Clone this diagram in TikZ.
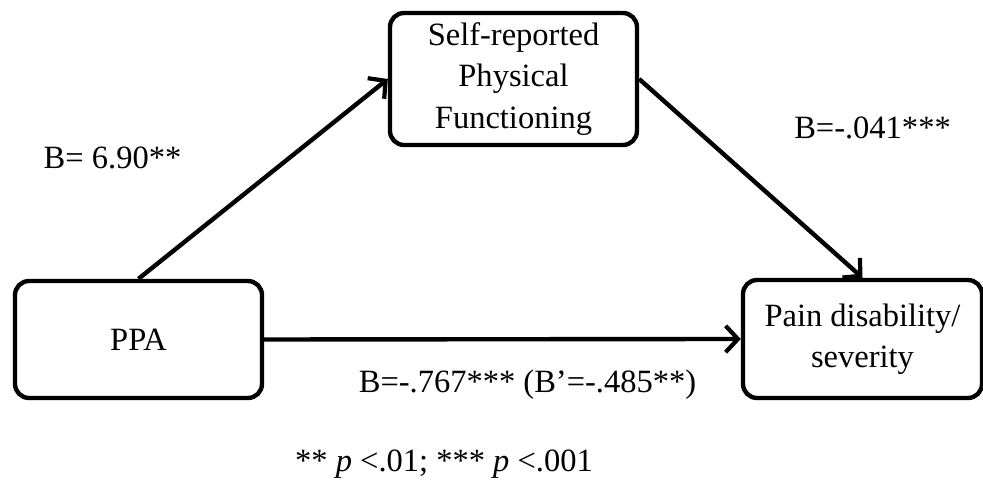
\documentclass[tikz,border=0pt]{standalone}
\usepackage{fontspec}
\setmainfont{Liberation Serif}
\usepackage{tikz}
\usetikzlibrary{arrows.meta}
\usetikzlibrary{positioning}
\tikzset{>={Straight Barb[length=7pt,width=15pt,line width=2.4pt]}}
\tikzstyle{var} = [rectangle, draw=black, line width=2.5pt, rounded corners=8pt, align=center, font=\fontsize{18.5}{23.5}\selectfont]
\tikzstyle{path} = [->, line width=2.5pt]
\tikzstyle{coef} = [draw=none, font=\fontsize{18.5}{22.5}\selectfont]

\begin{document}
\begin{tikzpicture}
\useasboundingbox (0,0) rectangle (19.66,9.82);
%boxes
\node [var, minimum width=4.94cm, minimum height=2.34cm] (PPA) at (2.77, 3.03) {PPA};
\node [var, minimum width=4.94cm, minimum height=2.64cm] (SPF) at (10.27, 8.24) {Self-reported\\Physical\\Functioning};
\node [var, minimum width=4.78cm, minimum height=2.36cm] (PDS) at (17.25, 3.04) {Pain disability/\\severity};
%paths
\draw [path] (PPA.north) to (SPF.west);
\draw [path] (SPF.east) to (PDS.north);
\draw [path] (PPA.east) to (PDS.west);
%coefficients
\node [coef] (a) at (2.25, 6.66) {B= 6.90**};
\node [coef] (b) at (17.45, 7.26) {B=-.041***};
\node [coef] (c) at (10.55, 2.12) {B=-.767*** (B'=-.485**)};
\node [coef] (sig) at (8.88, 0.54) {** \textit{p} <.01; *** \textit{p} <.001};
\end{tikzpicture}
\end{document}
